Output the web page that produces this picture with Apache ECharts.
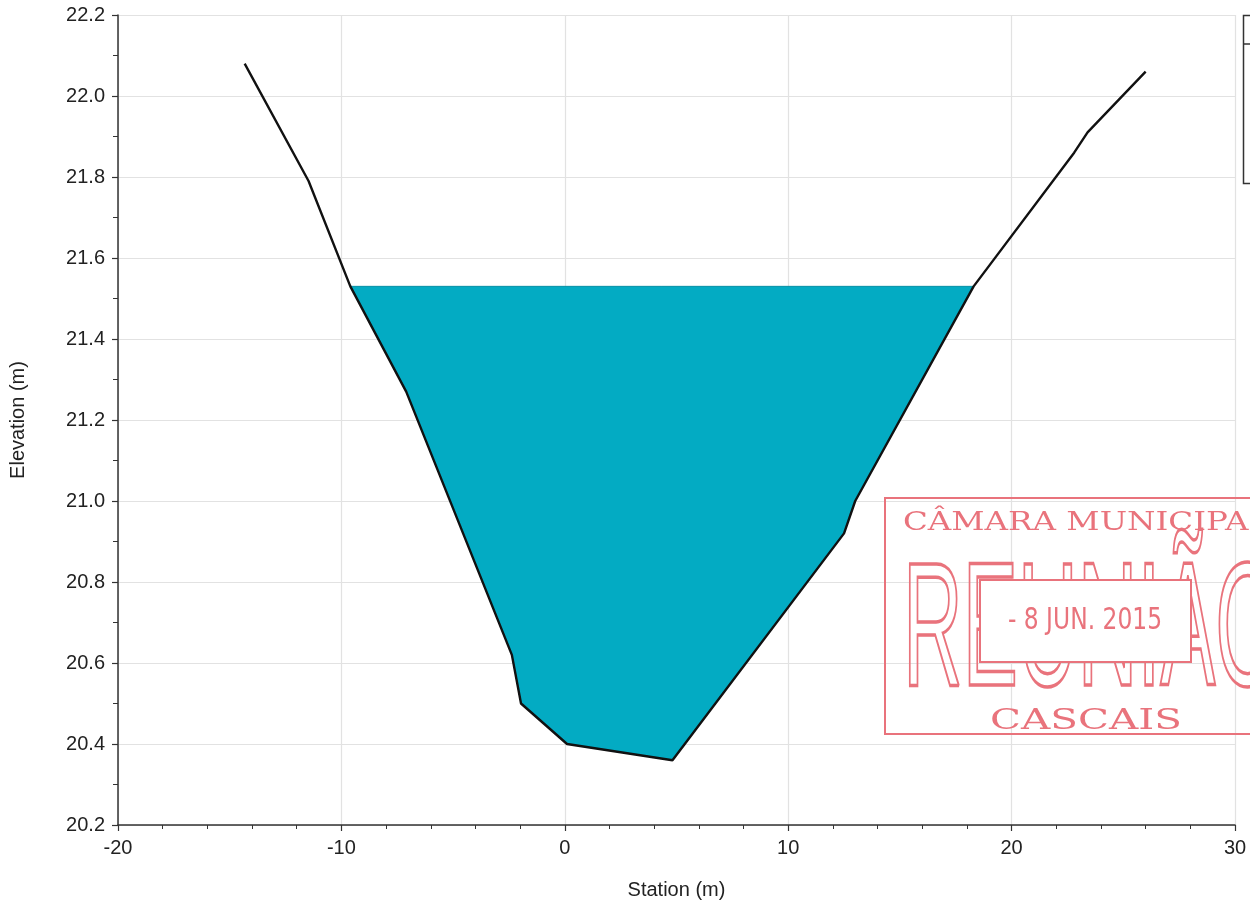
<!DOCTYPE html>
<html>
<head>
<meta charset="utf-8">
<script src="https://cdn.jsdelivr.net/npm/echarts@6/dist/echarts.min.js"></script>
<style>
html,body{margin:0;padding:0;background:#fff;}
#chart{width:1250px;height:905px;}
</style>
</head>
<body>
<div id="chart"></div>
<script>
// Ground cross-section profile (station m, elevation m)
const stationGround = [-14.33, -11.47, -9.6, -7.1, -2.37, -1.96, 0.1, 4.82, 12.5, 13.0, 18.3, 22.8, 23.4, 26.0];
const elevGround    = [22.08, 21.79, 21.53, 21.27, 20.62, 20.50, 20.40, 20.36, 20.92, 21.00, 21.53, 21.86, 21.91, 22.06];
// Water surface elevation
const waterSurface = 21.53;
// Axis ticks
const xTicks = [-20, -10, 0, 10, 20, 30];
const yTicks = [20.2, 20.4, 20.6, 20.8, 21.0, 21.2, 21.4, 21.6, 21.8, 22.0, 22.2];
// Stamp texts
const stampTop = 'CÂMARA MUNICIPAL';
const stampMid = 'REUNIÃO';
const stampDate = '- 8 JUN. 2015';
const stampBottom = 'CASCAIS';

const groundData = stationGround.map((x, i) => [x, elevGround[i]]);
const waterPoly = groundData.filter(p => p[1] <= waterSurface + 1e-9);

const FONT = "'Liberation Sans', Arial, sans-serif";
const RED = '#e9737c';

const chart = echarts.init(document.getElementById('chart'), null, {renderer: 'canvas'});
chart.setOption({
  animation: false,
  backgroundColor: '#ffffff',
  grid: {left: 118, right: 15, top: 15, bottom: 80, containLabel: false},
  xAxis: {
    type: 'value',
    min: xTicks[0], max: xTicks[xTicks.length - 1], interval: 10,
    name: 'Station (m)', nameLocation: 'middle', nameGap: 55,
    nameTextStyle: {fontFamily: FONT, fontSize: 20, color: '#222'},
    axisLine: {show: true, onZero: false, lineStyle: {color: '#333', width: 1.5}},
    axisTick: {show: true, inside: false, length: 6, lineStyle: {color: '#333', width: 1.2}},
    minorTick: {show: true, splitNumber: 5, length: 4, lineStyle: {color: '#333', width: 1}},
    axisLabel: {fontFamily: FONT, fontSize: 20, color: '#222', margin: 13},
    splitLine: {show: true, lineStyle: {color: '#e2e2e2', width: 1.2}}
  },
  yAxis: {
    type: 'value',
    min: yTicks[0], max: yTicks[yTicks.length - 1], interval: 0.2,
    name: 'Elevation (m)', nameLocation: 'middle', nameGap: 90,
    nameTextStyle: {fontFamily: FONT, fontSize: 20, color: '#222'},
    axisLine: {show: true, onZero: false, lineStyle: {color: '#333', width: 1.5}},
    axisTick: {show: true, inside: false, length: 6, lineStyle: {color: '#333', width: 1.2}},
    minorTick: {show: true, splitNumber: 2, length: 5, lineStyle: {color: '#333', width: 1}},
    axisLabel: {fontFamily: FONT, fontSize: 20, color: '#222', margin: 13,
      formatter: v => v.toFixed(1)},
    splitLine: {show: true, lineStyle: {color: '#e2e2e2', width: 1.2}}
  },
  series: [
    {
      type: 'custom',
      name: 'Water',
      z: 2,
      silent: true,
      data: [[waterPoly[0][0], waterPoly[0][1]]],
      renderItem: function (params, api) {
        const pts = waterPoly.map(p => api.coord(p));
        return {
          type: 'polygon',
          shape: {points: pts},
          style: {fill: '#03abc3', stroke: '#0790a6', lineWidth: 1}
        };
      }
    },
    {
      type: 'line',
      name: 'Ground',
      z: 3,
      data: groundData,
      showSymbol: false,
      symbol: 'none',
      lineStyle: {color: '#111', width: 2.4},
      silent: true
    }
  ],
  graphic: [
    // legend box, cut by the right edge
    {type: 'rect', z: 10, shape: {x: 1243.5, y: 15.5, width: 40, height: 168},
     style: {fill: '#fff', stroke: '#333', lineWidth: 1.5}},
    {type: 'line', z: 10, shape: {x1: 1243.5, y1: 44, x2: 1260, y2: 44},
     style: {stroke: '#333', lineWidth: 1.5}},
    // stamp
    {type: 'rect', z: 20, shape: {x: 885, y: 498, width: 420, height: 236},
     style: {fill: 'rgba(255,255,255,0)', stroke: RED, lineWidth: 2}},
    {type: 'text', z: 21, x: 903, y: 510, scaleX: 1.25,
     style: {text: stampTop, fill: RED, font: "26px 'DejaVu Serif', serif"}},
    {type: 'text', z: 21, x: 903, y: 548, scaleX: 0.47, scaleY: 1,
     style: {text: stampMid, fill: 'rgba(255,255,255,0)', stroke: RED, lineWidth: 3.5,
       font: "176px 'Liberation Sans', Arial, sans-serif"}},
    {type: 'rect', z: 22, shape: {x: 980, y: 580, width: 211, height: 82},
     style: {fill: '#fff', stroke: RED, lineWidth: 2}},
    {type: 'text', z: 23, x: 1085, y: 621, scaleX: 0.78,
     style: {text: stampDate, fill: RED, align: 'center', verticalAlign: 'middle',
       font: "30px 'DejaVu Sans', sans-serif"}},
    {type: 'text', z: 21, x: 1086, y: 722, scaleX: 1.5,
     style: {text: stampBottom, fill: RED, align: 'center', verticalAlign: 'middle',
       font: "27px 'DejaVu Serif', serif"}}
  ]
});
</script>
</body>
</html>
